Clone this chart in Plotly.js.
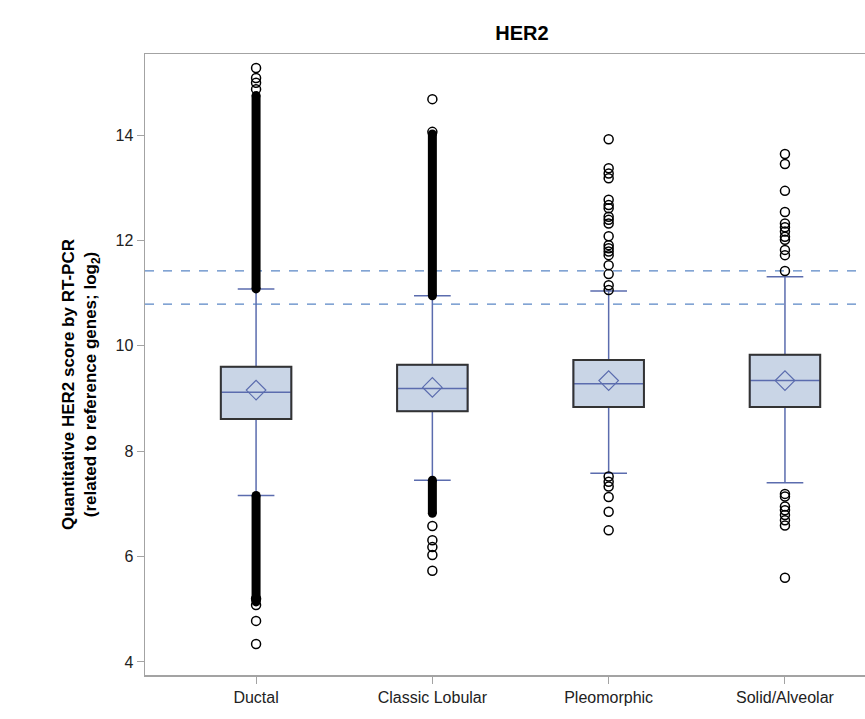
<!DOCTYPE html>
<html>
<head>
<meta charset="utf-8">
<script src="https://cdn.plot.ly/plotly-3.0.1.min.js"></script>
<style>html,body{margin:0;padding:0;background:#fff;}</style>
</head>
<body>
<div id="chart" style="width:865px;height:719px;"></div>
<script>
// ---- Data ----
const categories = ['Ductal', 'Classic Lobular', 'Pleomorphic', 'Solid/Alveolar'];
const q1 = [8.61, 8.76, 8.84, 8.84];
const medians = [9.12, 9.19, 9.28, 9.34];
const q3 = [9.60, 9.64, 9.73, 9.83];
const lowerWhisker = [7.16, 7.45, 7.58, 7.40];
const upperWhisker = [11.08, 10.95, 11.04, 11.31];
const means = [9.16, 9.21, 9.34, 9.34];

// Sparse outliers (individually visible circles)
const outDuctal = [15.27, 15.08, 14.99, 14.87, 5.20, 5.08, 4.78, 4.34];
const outLobular = [14.68, 14.06, 6.58, 6.31, 6.18, 6.03, 5.73];
const outPleomorphic = [13.92, 13.37, 13.27, 13.18, 12.77, 12.67, 12.61, 12.45, 12.39, 12.32,
  12.08, 11.91, 11.85, 11.79, 11.72, 11.53, 11.36, 11.15, 11.06,
  7.52, 7.42, 7.33, 7.13, 6.85, 6.50];
const outSolid = [13.64, 13.45, 12.94, 12.54, 12.32, 12.25, 12.17, 12.07, 12.01, 11.82, 11.72, 11.42,
  7.19, 7.14, 6.95, 6.88, 6.79, 6.69, 6.59, 5.60];

// Dense outlier runs (overlapping circles forming solid columns)
const denseCats = ['Ductal', 'Ductal', 'Classic Lobular', 'Classic Lobular'];
const denseLow = [11.08, 5.14, 10.95, 6.82];
const denseHigh = [14.75, 7.16, 14.02, 7.45];

// Reference cut-off lines
const cutoffs = [11.42, 10.79];

const yTicks = [4, 6, 8, 10, 12, 14];

// ---- Styles ----
const FONT = '"Liberation Sans", Arial, sans-serif';
const BLUE = '#5b6cae';
const FILL = '#c9d5e6';
const FRAME = '#a3a3a3';

const traces = [];

traces.push({
  type: 'box',
  x: categories,
  q1: q1,
  median: medians,
  q3: q3,
  lowerfence: lowerWhisker,
  upperfence: upperWhisker,
  boxpoints: false,
  fillcolor: FILL,
  line: { color: BLUE, width: 1.5 },
  whiskerwidth: 0.52,
  hoverinfo: 'skip',
  showlegend: false
});

for (let i = 0; i < denseCats.length; i++) {
  traces.push({
    type: 'scatter',
    mode: 'lines+markers',
    x: [denseCats[i], denseCats[i]],
    y: [denseLow[i], denseHigh[i]],
    line: { color: '#000', width: 9 },
    marker: { symbol: 'circle', size: 9, color: '#000' },
    hoverinfo: 'skip',
    showlegend: false
  });
}

const outSets = [outDuctal, outLobular, outPleomorphic, outSolid];
outSets.forEach((vals, i) => {
  traces.push({
    type: 'scatter',
    mode: 'markers',
    x: vals.map(() => categories[i]),
    y: vals,
    marker: { symbol: 'circle-open', size: 9, color: '#000', line: { width: 1.5, color: '#000' } },
    hoverinfo: 'skip',
    showlegend: false
  });
});

traces.push({
  type: 'scatter',
  mode: 'markers',
  x: categories,
  y: means,
  marker: { symbol: 'diamond-open', size: 15, color: BLUE, line: { width: 1.2, color: BLUE } },
  hoverinfo: 'skip',
  showlegend: false
});

const shapes = [];
categories.forEach((c, i) => {
  shapes.push({
    type: 'rect', xref: 'x', yref: 'y',
    x0: i - 0.2, x1: i + 0.2, y0: q1[i], y1: q3[i],
    line: { color: '#333', width: 2 }, fillcolor: 'rgba(0,0,0,0)', layer: 'above'
  });
});
cutoffs.forEach(v => {
  shapes.push({
    type: 'line', xref: 'paper', yref: 'y',
    x0: 0, x1: 1, y0: v, y1: v,
    line: { color: '#5a86c5', width: 1.3, dash: 'dash' }, layer: 'below'
  });
});

const PLOT_L = 145;
const PLOT_W = 865 - PLOT_L;
const PLOT_T = 54;
const PLOT_H = 719 - 44 - PLOT_T;

const layout = {
  width: 865,
  height: 719,
  margin: { l: PLOT_L, r: 0, t: PLOT_T, b: 44 },
  paper_bgcolor: '#fff',
  plot_bgcolor: '#fff',
  boxgap: 0.6,
  boxgroupgap: 0,
  showlegend: false,
  title: {
    text: '<b>HER2</b>',
    font: { family: FONT, size: 20, color: '#000' },
    xref: 'paper', x: (522 - PLOT_L) / PLOT_W, xanchor: 'center',
    yref: 'container', y: 1 - 33 / 719, yanchor: 'middle'
  },
  xaxis: {
    type: 'category',
    range: [-0.63, 3.454],
    showline: true, mirror: true, linecolor: FRAME, linewidth: 1.5,
    ticks: 'outside', ticklen: 7, tickcolor: FRAME, tickwidth: 1,
    showgrid: false, zeroline: false,
    tickfont: { family: FONT, size: 16, color: '#222' }
  },
  yaxis: {
    range: [3.753, 15.537],
    tickvals: yTicks,
    ticktext: yTicks.map(String),
    showline: true, linecolor: FRAME, linewidth: 1.5,
    ticks: 'outside', ticklen: 7, tickcolor: FRAME, tickwidth: 1,
    showgrid: false, zeroline: false,
    tickfont: { family: FONT, size: 16, color: '#222' }
  },
  annotations: [{
    text: '<b>Quantitative HER2 score by RT-PCR<br>(related to reference genes; log<sub>2</sub>)</b>',
    xref: 'paper', yref: 'paper',
    x: (81 - PLOT_L) / PLOT_W, y: 1 - (385 - PLOT_T) / PLOT_H,
    xanchor: 'center', yanchor: 'middle',
    textangle: -90,
    showarrow: false,
    font: { family: FONT, size: 17, color: '#000' }
  }],
  shapes: shapes
};

Plotly.newPlot('chart', traces, layout, { displayModeBar: false, staticPlot: true });
</script>
</body>
</html>
